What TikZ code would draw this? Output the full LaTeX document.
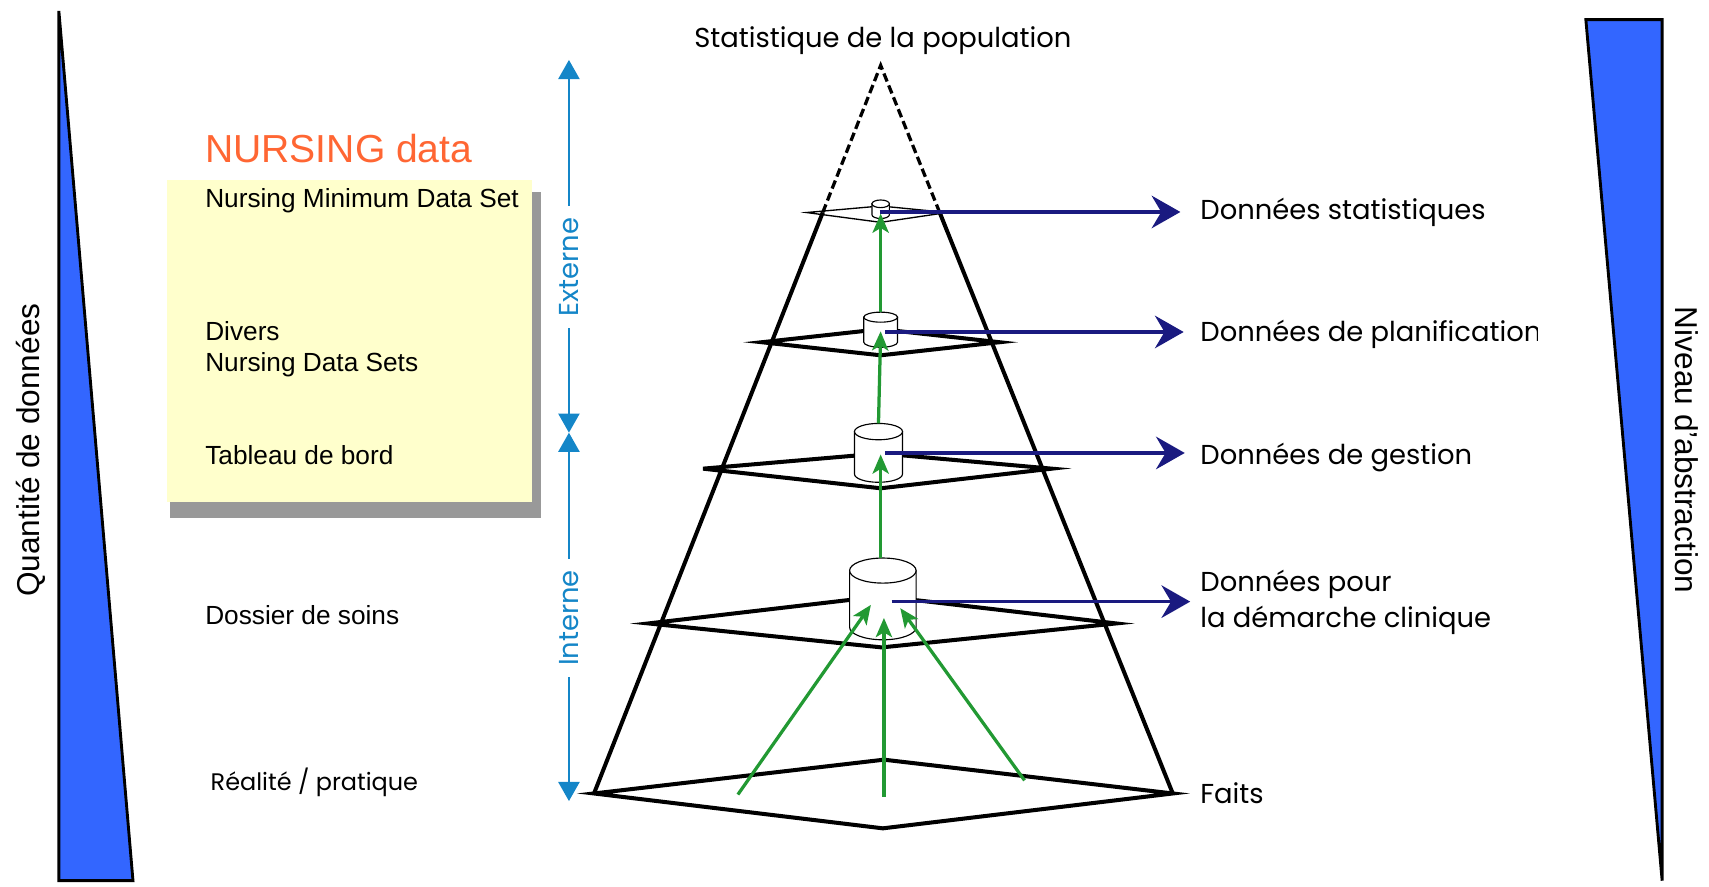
\documentclass[tikz,border=0pt]{standalone}
\usepackage{fontspec}
\setmainfont{Liberation Sans}
\newfontfamily\geofont{Poppins}
\usetikzlibrary{calc,arrows.meta}
\definecolor{wedgeblue}{RGB}{51,102,255}
\definecolor{navyarrow}{RGB}{26,26,128}
\definecolor{flowgreen}{RGB}{34,153,51}
\definecolor{scaleblue}{RGB}{20,134,200}
\definecolor{notepaper}{RGB}{255,255,204}
\definecolor{noteshadow}{RGB}{153,153,153}
\definecolor{nursingorange}{RGB}{255,102,51}

\begin{document}
\begin{tikzpicture}[x=0.02cm,y=-0.02cm,
  tierline/.style={line width=2.1pt},
  toptier/.style={line width=0.7pt},
  drum/.style={draw=black,fill=white,line width=0.6pt},
  upflow/.style={flowgreen,line width=1.7pt,-{Stealth[length=10pt,width=8.5pt,inset=2.5pt]}},
  outflow/.style={navyarrow,line width=1.7pt,-{Stealth[length=15pt,width=17pt,inset=5pt]}},
  reach/.style={scaleblue,line width=1.2pt},
  wedge/.style={draw=black,line width=1.5pt,fill=wedgeblue,line join=miter},
  geo/.style={font=\geofont\fontsize{14.3}{18}\selectfont,inner sep=0pt},
  sans/.style={font=\fontsize{13.7}{16.4}\selectfont,inner sep=0pt}]
\useasboundingbox (0,0) rectangle (1568,813);

% side wedges
\draw[wedge] (54,10) -- (54,808) -- (122,808) -- cycle;
\draw[wedge] (1455,18) -- (1525,18) -- (1525,808) -- cycle;
\node[rotate=90,font=\fontsize{16.5}{18}\selectfont] (qty) at (28,413) {Quantité de données};
\node[rotate=-90,font=\fontsize{16.5}{18}\selectfont] (abstr) at (1548,413) {Niveau d'abstraction};

% note
\fill[noteshadow] (156,176) rectangle (496,475);
\fill[notepaper] (153,165) rectangle (488,461);
\node[anchor=base west,inner sep=0pt,text=nursingorange,font=\fontsize{20.4}{22}\selectfont] (nursing) at (188,149) {NURSING data};
\node[sans,anchor=base west] (nmds) at (188,190) {Nursing Minimum Data Set};
\node[sans,anchor=base west,align=left] (divers) at (188,341) {Divers\\Nursing Data Sets};
\node[sans,anchor=base west] (tableau) at (188,426.6) {Tableau de bord};
\node[sans,anchor=base west] (dossier) at (188,572.7) {Dossier de soins};
\node[geo,anchor=base west,font=\geofont\fontsize{12.5}{16}\selectfont] (realite) at (193,725) {Réalité / pratique};

% externe / interne
\coordinate (ext) at (522,55);
\coordinate (mid) at (522,397);
\coordinate (int) at (522,735);
\draw[reach,{Triangle[length=10pt,width=11pt]}-{Triangle[length=10pt,width=11pt]}] (ext) -- node[pos=0.556,rotate=90,fill=white,geo,inner sep=6pt] (extlab) {Externe} (mid);
\draw[reach,{Triangle[length=10pt,width=11pt]}-{Triangle[length=10pt,width=11pt]}] (mid) -- node[pos=0.503,rotate=90,fill=white,geo,inner sep=6pt] (intlab) {Interne} (int);

% pyramid
\coordinate (apex) at (808,60);
\coordinate (p0l) at (545,728);
\coordinate (p0t) at (811,697);
\coordinate (p0r) at (1076,728);
\coordinate (p0b) at (810,760);
\coordinate (p1l) at (595,572);
\coordinate (p1t) at (809,547);
\coordinate (p1r) at (1024,572);
\coordinate (p1b) at (809,594);
\coordinate (p2l) at (645,430);
\coordinate (p2t) at (808,416);
\coordinate (p2r) at (965,430);
\coordinate (p2b) at (808,448);
\coordinate (p3l) at (699,314);
\coordinate (p3t) at (808,302);
\coordinate (p3r) at (917,314);
\coordinate (p3b) at (808,326);
\coordinate (p4l) at (740,195);
\coordinate (p4t) at (808,189);
\coordinate (p4r) at (869,195);
\coordinate (p4b) at (808,204);
\coordinate (sl) at ($(p0l)!0.798!(apex)$);
\coordinate (sr) at ($(p0r)!0.798!(apex)$);

\draw[tierline] (p0l) -- (sl) (p0r) -- (sr);
\draw[line width=1.7pt,dash pattern=on 4.5pt off 2.2pt] (sl) -- (apex) -- (sr);
\draw[tierline] (p0l) -- (p0t) -- (p0r) -- (p0b) -- cycle;
\draw[tierline] (p1l) -- (p1t) -- (p1r) -- (p1b) -- cycle;
\draw[tierline] (p2l) -- (p2t) -- (p2r) -- (p2b) -- cycle;
\draw[tierline] (p3l) -- (p3t) -- (p3r) -- (p3b) -- cycle;
\draw[toptier] (p4l) -- (p4t) -- (p4r) -- (p4b) -- cycle;

% drums
\coordinate (c1) at (808,187);
\coordinate (c2) at (808,291);
\coordinate (c3) at (806,396);
\coordinate (c4) at (810,523.5);
\draw[drum] (c1) ++(-8,0) -- ++(0,10) arc[start angle=180,end angle=0,x radius=8,y radius=3.5] -- ++(0,-10) -- cycle;
\draw[drum] (c1) ellipse[x radius=8,y radius=3.5];
\draw[drum] (c2) ++(-15.5,0) -- ++(0,23) arc[start angle=180,end angle=0,x radius=15.5,y radius=4.6] -- ++(0,-23) -- cycle;
\draw[drum] (c2) ellipse[x radius=15.5,y radius=4.6];
\draw[drum] (c3) ++(-22,0) -- ++(0,39) arc[start angle=180,end angle=0,x radius=22,y radius=7.5] -- ++(0,-39) -- cycle;
\draw[drum] (c3) ellipse[x radius=22,y radius=7.5];
\draw[drum] (c4) ++(-30.5,0) -- ++(0,52) arc[start angle=180,end angle=0,x radius=30.5,y radius=11.5] -- ++(0,-52) -- cycle;
\draw[drum] (c4) ellipse[x radius=30.5,y radius=11.5];

% flows upward
\coordinate (g4) at (808,512);
\coordinate (g3) at (806,388.5);
\coordinate (g2) at (808,286.4);
\coordinate (h3) at (808,417);
\coordinate (h2) at (808,304);
\coordinate (h1) at (808,196);
\draw[upflow] (g4) -- (h3);
\draw[upflow] (g3) -- (h2);
\draw[upflow] (g2) -- (h1);
\coordinate (fa) at (677,729);
\coordinate (fb) at (811,731);
\coordinate (fc) at (940,716);
\coordinate (ha) at (799,555);
\coordinate (hb) at (811,567);
\coordinate (hc) at (826,558);
\draw[upflow] (fa) -- (ha);
\draw[upflow] (fb) -- (hb);
\draw[upflow] (fc) -- (hc);

% flows outward
\coordinate (o1) at (807,194.5);
\coordinate (o2) at (812,304.6);
\coordinate (o3) at (812,415.6);
\coordinate (o4) at (818,552);
\coordinate (t1) at (1083,194.5);
\coordinate (t2) at (1086,304.6);
\coordinate (t3) at (1087,415.6);
\coordinate (t4) at (1092,552);
\draw[outflow] (o1) -- (t1);
\draw[outflow] (o2) -- (t2);
\draw[outflow] (o3) -- (t3);
\draw[outflow] (o4) -- (t4);

\node[geo,anchor=base] (stat) at (810,43.8) {Statistique de la population};
\node[geo,anchor=base west] (l1) at (1101,201) {Données statistiques};
\begin{scope}
\clip (1095,280) rectangle (1411,330);
\node[geo,anchor=base west] (l2) at (1101,313) {Données de planification};
\end{scope}
\node[geo,anchor=base west] (l3) at (1101,426.6) {Données de gestion};
\node[geo,anchor=base west,align=left,font=\geofont\fontsize{14.3}{19}\selectfont] (l4) at (1101,576) {Données pour\\la démarche clinique};
\node[geo,anchor=base west] (faits) at (1101,737) {Faits};

\end{tikzpicture}
\end{document}
